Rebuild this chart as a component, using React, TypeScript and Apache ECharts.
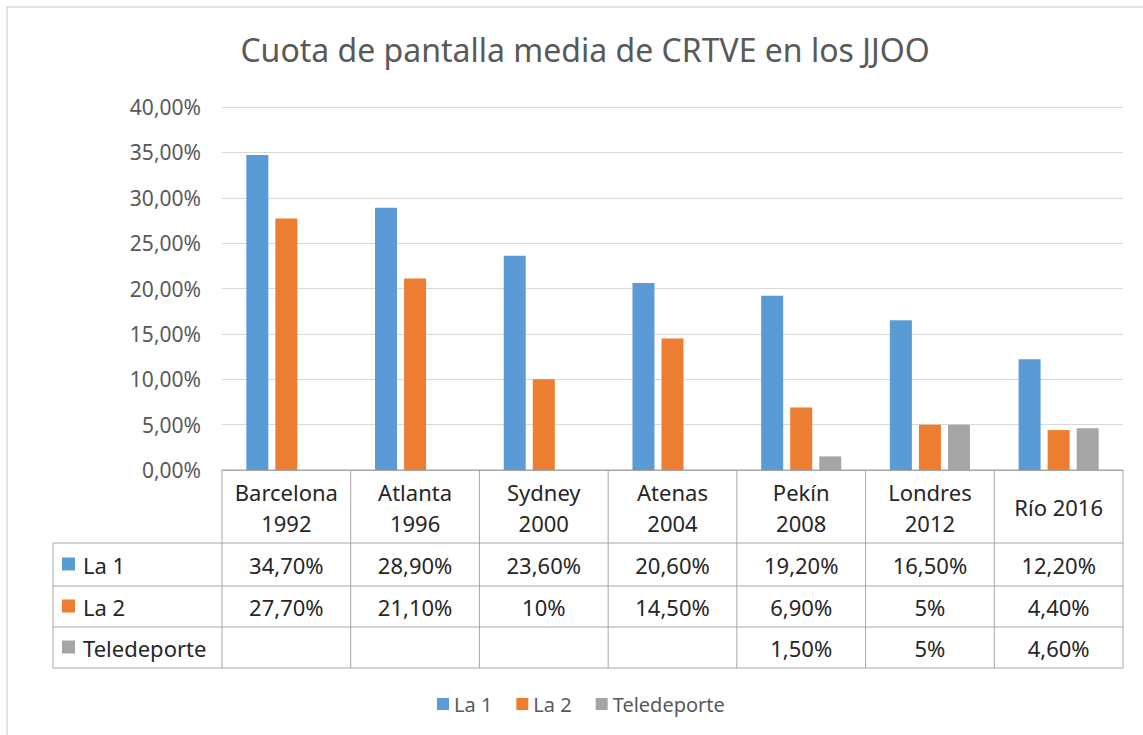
import React, { useEffect, useRef } from "react";
import * as echarts from "echarts";

const categories = [
  "Barcelona\n1992",
  "Atlanta\n1996",
  "Sydney\n2000",
  "Atenas\n2004",
  "Pekín\n2008",
  "Londres\n2012",
  "Río 2016",
];
const seriesNames = ["La 1", "La 2", "Teledeporte"];
const la1 = [34.7, 28.9, 23.6, 20.6, 19.2, 16.5, 12.2];
const la2 = [27.7, 21.1, 10, 14.5, 6.9, 5, 4.4];
const teledeporte: (number | null)[] = [null, null, null, null, 1.5, 5, 4.6];
const colors = ["#5B9BD5", "#ED7D31", "#A5A5A5"];
const yTicks = { min: 0, max: 40, interval: 5 };

const FONT = "'Noto Sans', sans-serif";

function fmtAxis(v: number) {
  return v.toFixed(2).replace(".", ",") + "%";
}
function fmtCell(v: number | null) {
  if (v === null || v === undefined) return "";
  if (Number.isInteger(v)) return v + "%";
  return v.toFixed(2).replace(".", ",") + "%";
}

export default function App() {
  const ref = useRef<HTMLDivElement>(null);
  useEffect(() => {
    if (!ref.current) return;
    const chart = echarts.init(ref.current, undefined, { renderer: "svg" });
    const gridLeft = 222;
    const gridRight = 20;
    const W = 1143;
    const plotL = gridLeft;
    const plotR = W - gridRight;
    const colW = (plotR - plotL) / categories.length;
    const rowYs = [470, 543, 586, 627, 668];
    const tableLeft = 53;
    const lineColor = "#A6A6A6";
    const textColor = "#262626";
    const cellFont = 22;

    const allSeries = [la1, la2, teledeporte];
    const graphics: any[] = [];
    graphics.push({
      type: "rect",
      shape: { x: 7, y: 7, width: 1160, height: 760 },
      style: { fill: "none", stroke: "#D9D9D9", lineWidth: 1.5 },
      silent: true,
    });
    graphics.push({
      type: "line",
      shape: { x1: plotL, y1: rowYs[0], x2: plotR, y2: rowYs[0] },
      style: { stroke: lineColor, lineWidth: 1 },
    });
    for (let r = 1; r < rowYs.length; r++) {
      graphics.push({
        type: "line",
        shape: { x1: tableLeft, y1: rowYs[r], x2: plotR, y2: rowYs[r] },
        style: { stroke: lineColor, lineWidth: 1 },
      });
    }
    for (let c = 0; c <= categories.length; c++) {
      const x = plotL + c * colW;
      graphics.push({
        type: "line",
        shape: { x1: x, y1: rowYs[0], x2: x, y2: rowYs[4] },
        style: { stroke: lineColor, lineWidth: 1 },
      });
    }
    graphics.push({
      type: "line",
      shape: { x1: tableLeft, y1: rowYs[1], x2: tableLeft, y2: rowYs[4] },
      style: { stroke: lineColor, lineWidth: 1 },
    });
    for (let s = 0; s < seriesNames.length; s++) {
      const yMid = (rowYs[s + 1] + rowYs[s + 2]) / 2;
      graphics.push({
        type: "rect",
        shape: { x: 62, y: yMid - 7, width: 13, height: 13 },
        style: { fill: colors[s] },
      });
      graphics.push({
        type: "text",
        x: 83,
        y: yMid,
        style: {
          text: seriesNames[s],
          fontSize: cellFont,
          fontFamily: FONT,
          fill: textColor,
          align: "left",
          verticalAlign: "middle",
        },
      });
      const vals = allSeries[s];
      for (let c = 0; c < categories.length; c++) {
        const t = fmtCell(vals[c] as any);
        if (!t) continue;
        graphics.push({
          type: "text",
          x: plotL + (c + 0.5) * colW,
          y: yMid,
          style: {
            text: t,
            fontSize: cellFont,
            fontFamily: FONT,
            fill: textColor,
            align: "center",
            verticalAlign: "middle",
          },
        });
      }
    }

    chart.setOption({
      animation: false,
      backgroundColor: "#FFFFFF",
      title: {
        text: "Cuota de pantalla media de CRTVE en los JJOO",
        left: 580,
        top: 28,
        textAlign: "center",
        textStyle: {
          fontFamily: FONT,
          fontSize: 32,
          fontWeight: "normal",
          color: "#595959",
        },
      },
      legend: {
        data: seriesNames,
        left: 432,
        top: 689,
        itemWidth: 12,
        itemHeight: 12,
        itemGap: 24,
        icon: "rect",
        textStyle: {
          fontFamily: FONT,
          fontSize: 20,
          color: "#595959",
        },
      },
      grid: {
        left: gridLeft,
        right: gridRight,
        top: 107,
        bottom: 735 - 470,
        containLabel: false,
      },
      xAxis: {
        type: "category",
        data: categories,
        axisLine: { show: true, lineStyle: { color: lineColor } },
        axisTick: { show: false },
        axisLabel: {
          fontFamily: FONT,
          fontSize: cellFont,
          lineHeight: 31,
          color: textColor,
          margin: 37,
          verticalAlign: "middle",
          interval: 0,
        },
      },
      yAxis: {
        type: "value",
        min: yTicks.min,
        max: yTicks.max,
        interval: yTicks.interval,
        axisLine: { show: false },
        axisTick: { show: false },
        splitLine: { lineStyle: { color: "#D9D9D9" } },
        axisLabel: {
          fontFamily: FONT,
          fontSize: 21,
          color: "#595959",
          margin: 21,
          formatter: (v: number) => fmtAxis(v),
        },
      },
      series: seriesNames.map((name, i) => ({
        name,
        type: "bar",
        data: allSeries[i],
        barWidth: 22,
        barGap: "32%",
        itemStyle: { color: colors[i] },
      })),
      graphic: graphics,
    });
    return () => chart.dispose();
  }, []);
  return (
    <div
      ref={ref}
      style={{ position: "fixed", left: 0, top: 0, width: 1143, height: 735 }}
    />
  );
}
